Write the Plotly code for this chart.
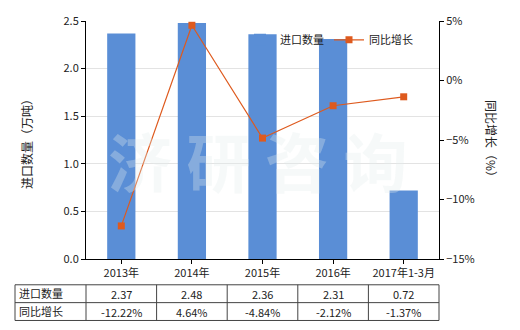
import plotly.graph_objects as go

categories = ["2013年", "2014年", "2015年", "2016年", "2017年1-3月"]
import_qty = [2.37, 2.48, 2.36, 2.31, 0.72]
yoy_growth = [-12.22, 4.64, -4.84, -2.12, -1.37]
qty_labels = ["2.37", "2.48", "2.36", "2.31", "0.72"]
growth_labels = ["-12.22%", "4.64%", "-4.84%", "-2.12%", "-1.37%"]

FONT = "Noto Sans CJK SC"
BAR_C = "#5A8ED6"
LINE_C = "#DE5A1E"

L, R, T, B = 86, 81, 19, 71
W, H = 520, 330
pw, ph = W - L - R, H - T - B

def px(x):
    return (x - L) / pw

def py(y):
    return (H - B - y) / ph

fig = go.Figure()
fig.add_trace(go.Bar(x=categories, y=import_qty, name="进口数量",
                     marker=dict(color=BAR_C, line=dict(width=0)), width=0.4))
fig.add_trace(go.Scatter(x=categories, y=yoy_growth, name="同比增长", yaxis="y2",
                         mode="lines+markers",
                         line=dict(color=LINE_C, width=1.2),
                         marker=dict(symbol="square", size=7, color=LINE_C)))

shapes = []
annotations = []

# watermark
annotations.append(dict(text="<b>济 研 咨 询</b>", xref="paper", yref="paper", x=px(258), y=py(158),
                        xanchor="center", yanchor="middle",
                        showarrow=False, font=dict(family=FONT, size=64, color="rgba(228,236,236,0.32)")))

# axis titles
annotations.append(dict(text="进口数量（万吨）", xref="paper", yref="paper", x=px(27), y=py(140),
                        xanchor="center", yanchor="middle",
                        showarrow=False, textangle=-90, font=dict(family=FONT, size=12, color="#222")))
annotations.append(dict(text="同比增长（%）", xref="paper", yref="paper", x=px(491), y=py(140),
                        xanchor="center", yanchor="middle",
                        showarrow=False, textangle=90, font=dict(family=FONT, size=12, color="#222")))

# table
tl, tr = 15, 439
ty = [285, 303, 321]
col_edges = [tl] + [L + pw * i / 5 for i in range(6)]
lc = "#444"
for yy in ty:
    shapes.append(dict(type="line", xref="paper", yref="paper", x0=px(tl), x1=px(tr), y0=py(yy), y1=py(yy),
                       line=dict(color=lc, width=1)))
for xx in col_edges:
    shapes.append(dict(type="line", xref="paper", yref="paper", x0=px(xx), x1=px(xx), y0=py(ty[0]), y1=py(ty[2]),
                       line=dict(color=lc, width=1)))
row_names = ["进口数量", "同比增长"]
rows = [qty_labels, growth_labels]
for r in range(2):
    yc = (ty[r] + ty[r + 1]) / 2
    annotations.append(dict(text=row_names[r], xref="paper", yref="paper", x=px(17), y=py(yc - 1),
                            xanchor="left", yanchor="middle",
                            showarrow=False, font=dict(family=FONT, size=11, color="#222")))
    for i, t in enumerate(rows[r]):
        xc = L + pw * (i + 0.5) / 5
        annotations.append(dict(text=t, xref="paper", yref="paper", x=px(xc), y=py(yc),
                                xanchor="center", yanchor="middle",
                                showarrow=False, font=dict(family=FONT, size=11, color="#222")))

fig.update_layout(
    width=W, height=H,
    margin=dict(l=L, r=R, t=T, b=B),
    paper_bgcolor="white", plot_bgcolor="white",
    font=dict(family=FONT, size=11, color="#222"),
    bargap=0.6,
    xaxis=dict(showline=True, linecolor="black", linewidth=1, ticks="outside", ticklen=4,
               tickcolor="black", tickfont=dict(size=11), showgrid=False),
    yaxis=dict(range=[0, 2.5], dtick=0.5, tickformat=".1f", showline=True, linecolor="black",
               linewidth=1, ticks="outside", ticklen=4, tickcolor="black",
               showgrid=True, gridcolor="#E3E3E3", gridwidth=1, zeroline=False),
    yaxis2=dict(range=[-15, 5], dtick=5, ticksuffix="%", overlaying="y", side="right",
                showline=True, linecolor="black", linewidth=1, ticks="outside", ticklen=4,
                tickcolor="black", showgrid=False, zeroline=False),
    legend=dict(orientation="h", x=px(240), y=py(38), xanchor="left", yanchor="middle",
                bgcolor="rgba(0,0,0,0)", font=dict(size=11), itemwidth=30),
    shapes=shapes, annotations=annotations,
)

fig.write_html("out.html")
